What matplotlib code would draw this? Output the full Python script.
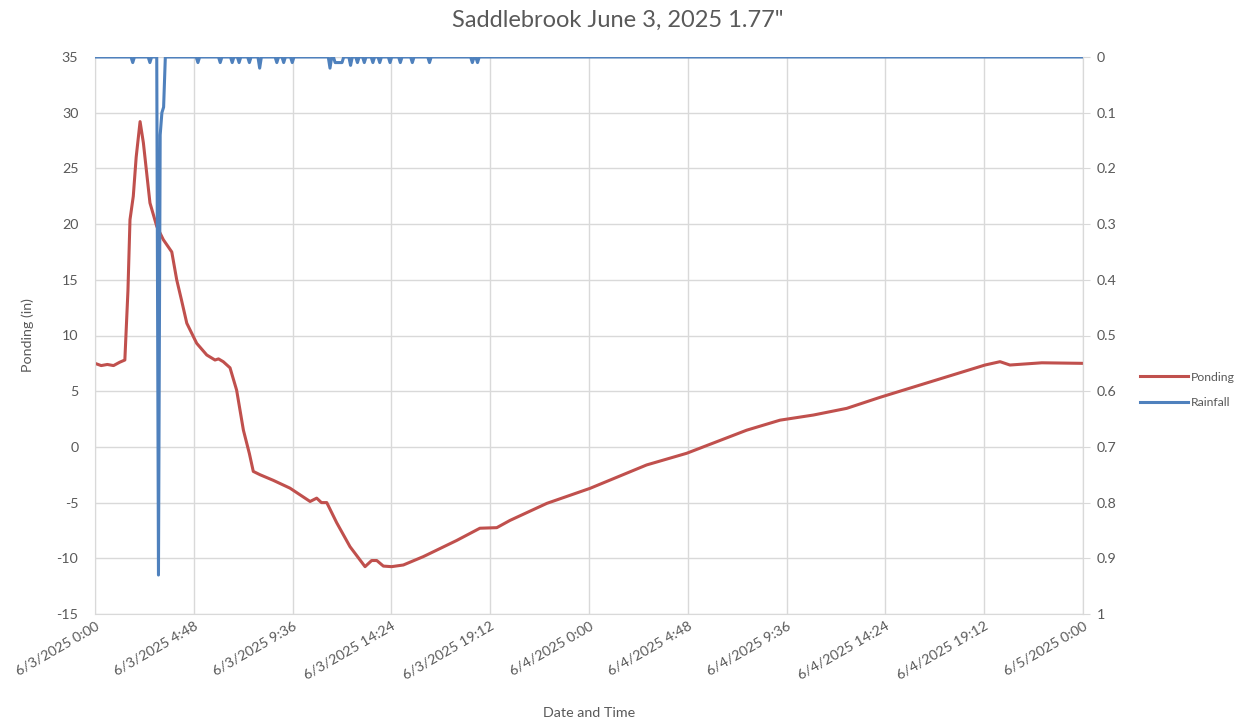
import numpy as np
import matplotlib
matplotlib.use("Agg")
from matplotlib import pyplot as plt

# Ponding level (in), hours after 6/3/2025 0:00
pond_hours = [0.0, 0.3, 0.6, 0.9, 1.2, 1.45, 1.6, 1.70, 1.86, 2.0, 2.19, 2.35, 2.67,
              3.0, 3.32, 3.73, 3.97, 4.2, 4.46, 4.94, 5.43, 5.83, 6.0, 6.23, 6.56,
              6.88, 7.21, 7.5, 7.69, 8.02, 8.66, 9.47, 10.45, 10.77, 11.0, 11.26,
              11.74, 12.39, 13.12, 13.44, 13.69, 14.01, 14.41, 14.98, 15.95, 17.57,
              18.70, 19.52, 20.16, 21.95, 24.05, 26.80, 28.75, 31.66, 33.28, 34.90,
              36.52, 38.14, 43.24, 43.97, 44.45, 46.0, 48.0]
pond_in = [7.5, 7.3, 7.4, 7.3, 7.6, 7.8, 14.0, 20.4, 22.5, 26.0, 29.2, 27.3, 21.9,
           19.8, 18.6, 17.5, 15.0, 13.2, 11.1, 9.3, 8.25, 7.8, 7.9, 7.65, 7.1,
           5.1, 1.5, -0.6, -2.2, -2.5, -3.0, -3.7, -4.9, -4.6, -5.0, -5.0,
           -6.8, -8.96, -10.75, -10.2, -10.2, -10.7, -10.75, -10.6, -9.85, -8.4,
           -7.3, -7.25, -6.6, -5.07, -3.72, -1.62, -0.57, 1.5, 2.4, 2.86,
           3.46, 4.45, 7.35, 7.65, 7.35, 7.55, 7.5]

# Rainfall readings (in) that were not zero; all other 5-minute readings are 0
rain_hours = [1.86, 2.67, 3.08, 3.17, 3.25, 3.33, 5.0, 6.07, 6.70, 7.04, 7.53, 8.02,
              8.84, 9.13, 9.62, 11.42, 11.67, 11.75, 11.83, 11.92, 12.0, 12.42,
              12.75, 13.08, 13.5, 13.83, 14.33, 14.83, 15.42, 16.25, 18.33, 18.58]
rain_in = [0.01, 0.01, 0.93, 0.14, 0.10, 0.09, 0.01, 0.01, 0.01, 0.01, 0.01, 0.02,
           0.01, 0.01, 0.01, 0.02, 0.01, 0.01, 0.01, 0.01, 0.01, 0.015,
           0.01, 0.01, 0.01, 0.01, 0.01, 0.01, 0.01, 0.01, 0.01, 0.01]

tick_hours = [0, 4.8, 9.6, 14.4, 19.2, 24, 28.8, 33.6, 38.4, 43.2, 48]
tick_labels = ["6/3/2025 0:00", "6/3/2025 4:48", "6/3/2025 9:36", "6/3/2025 14:24",
               "6/3/2025 19:12", "6/4/2025 0:00", "6/4/2025 4:48", "6/4/2025 9:36",
               "6/4/2025 14:24", "6/4/2025 19:12", "6/5/2025 0:00"]
left_ticks = [-15, -10, -5, 0, 5, 10, 15, 20, 25, 30, 35]
right_ticks = [0, 0.1, 0.2, 0.3, 0.4, 0.5, 0.6, 0.7, 0.8, 0.9, 1]
right_labels = ["0", "0.1", "0.2", "0.3", "0.4", "0.5", "0.6", "0.7", "0.8", "0.9", "1"]

# logger reads every 5 minutes
log_hours = np.arange(0, 48 * 12 + 1) / 12
rain_series = np.zeros(len(log_hours))
for h, v in zip(rain_hours, rain_in):
    rain_series[int(round(h * 12))] = v

RED = "#c0504d"
BLUE = "#4f81bd"
GRID = "#d9d9d9"
TXT = "#595959"

plt.rcParams['font.family'] = ['Lato', 'DejaVu Sans']

fig = plt.figure(figsize=(12.36, 7.21), dpi=100)
ax = fig.add_axes([95 / 1236, 1 - 614 / 721, 988 / 1236, 557 / 721])
ax2 = ax.twinx()

ax.plot(pond_hours, pond_in, color=RED, lw=2.2, label="Ponding")
ax2.plot(log_hours, rain_series, color=BLUE, lw=2.2, label="Rainfall")

ax.set_xlim(0, 48)
ax.set_ylim(-15, 35)
ax2.set_ylim(1, 0)

ax.set_xticks(tick_hours)
ax.set_xticklabels(tick_labels, rotation=30, ha='right', rotation_mode='anchor',
                   fontsize=10.3, color=TXT)
ax.set_yticks(left_ticks)
ax.set_yticklabels([str(t) for t in left_ticks], fontsize=10.3, color=TXT)
ax2.set_yticks(right_ticks)
ax2.set_yticklabels(right_labels, fontsize=10.3, color=TXT)

ax.grid(True, color=GRID, lw=1)
ax.set_axisbelow(True)
ax.tick_params(axis='x', length=0, pad=4)
ax.tick_params(axis='y', length=0, pad=12)
ax2.tick_params(axis='y', length=5, color=GRID, pad=5)

ax.spines["top"].set_visible(False)
ax2.spines["top"].set_visible(False)
for s in ["left", "bottom", "right"]:
    ax.spines[s].set_color(GRID)
    ax2.spines[s].set_color(GRID)
ax2.spines["left"].set_visible(False)
ax2.spines["bottom"].set_visible(False)

ax.set_ylabel("Ponding (in)", fontsize=10.3, color=TXT, labelpad=16)
ax.set_xlabel("Date and Time", fontsize=10.3, color=TXT, labelpad=18)
fig.suptitle('Saddlebrook June 3, 2025 1.77"', fontsize=17, color=TXT, y=0.987)

h1, l1 = ax.get_legend_handles_labels()
h2, l2 = ax2.get_legend_handles_labels()
fig.legend(h1 + h2, l1 + l2, loc='center left', bbox_to_anchor=(1129 / 1236, 1 - 390 / 721),
           frameon=False, fontsize=8.8, labelcolor=TXT, handlelength=3.9,
           handletextpad=0.3, labelspacing=1.2)

fig.savefig("out.png", dpi=100)
